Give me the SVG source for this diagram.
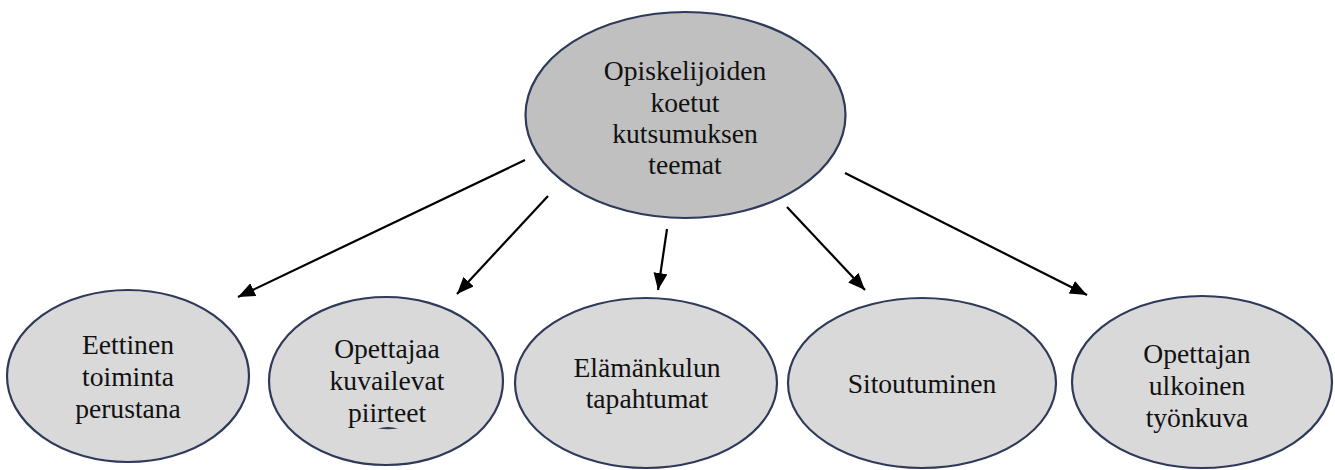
<svg xmlns="http://www.w3.org/2000/svg" width="1335" height="470" viewBox="0 0 1335 470">
<style>
.node{fill:#d9d9d9;stroke:#2f3a5a;stroke-width:2.2}
.top{fill:#c0c0c0}
.lbl{font-family:'Liberation Serif','Times New Roman',Times,serif;font-size:27.6px;fill:#111;text-anchor:middle}
.conn{stroke:#000;stroke-width:2.2;fill:none;marker-end:url(#ah)}
</style>
<defs>
<marker id="ah" markerUnits="userSpaceOnUse" markerWidth="20" markerHeight="16" refX="17" refY="7" orient="auto">
<path d="M0,0 L17,7 L0,14 Z" fill="#000"/>
</marker>
</defs>
<rect width="1335" height="470" fill="#fff"/>
<g id="connectors">
<line class="conn" x1="525" y1="160" x2="238" y2="297"/>
<line class="conn" x1="548" y1="196" x2="457" y2="294"/>
<line class="conn" x1="667" y1="229" x2="658" y2="290"/>
<line class="conn" x1="787" y1="207" x2="865" y2="290"/>
<line class="conn" x1="845" y1="173" x2="1087" y2="295"/>
</g>
<g id="n0">
<ellipse class="node top" cx="685.5" cy="115" rx="160" ry="103"/>
<text class="lbl" x="685" y="80">Opiskelijoiden</text>
<text class="lbl" x="685" y="112">koetut</text>
<text class="lbl" x="685" y="143">kutsumuksen</text>
<text class="lbl" x="685" y="174">teemat</text>
</g>
<g id="n1">
<ellipse class="node" cx="128" cy="376" rx="121" ry="86"/>
<text class="lbl" x="128" y="354">Eettinen</text>
<text class="lbl" x="128" y="386">toiminta</text>
<text class="lbl" x="128" y="418">perustana</text>
</g>
<g id="n2">
<ellipse class="node" cx="386" cy="381" rx="117" ry="84"/>
<text class="lbl" x="387" y="358">Opettajaa</text>
<text class="lbl" x="387" y="390">kuvailevat</text>
<text class="lbl" x="387" y="422">piirteet</text>
<path d="M378,428.5 Q388,425.5 398,428.5 Q388,430 378,428.5 Z" fill="#2f3a5a"/>
</g>
<g id="n3">
<ellipse class="node" cx="646" cy="383" rx="131" ry="85"/>
<text class="lbl" x="647" y="377">Elämänkulun</text>
<text class="lbl" x="647" y="408">tapahtumat</text>
</g>
<g id="n4">
<ellipse class="node" cx="922" cy="383" rx="134" ry="85"/>
<text class="lbl" x="922" y="393">Sitoutuminen</text>
</g>
<g id="n5">
<ellipse class="node" cx="1202" cy="382" rx="130" ry="86"/>
<text class="lbl" x="1197" y="363">Opettajan</text>
<text class="lbl" x="1197" y="395">ulkoinen</text>
<text class="lbl" x="1197" y="427">työnkuva</text>
</g>
</svg>
